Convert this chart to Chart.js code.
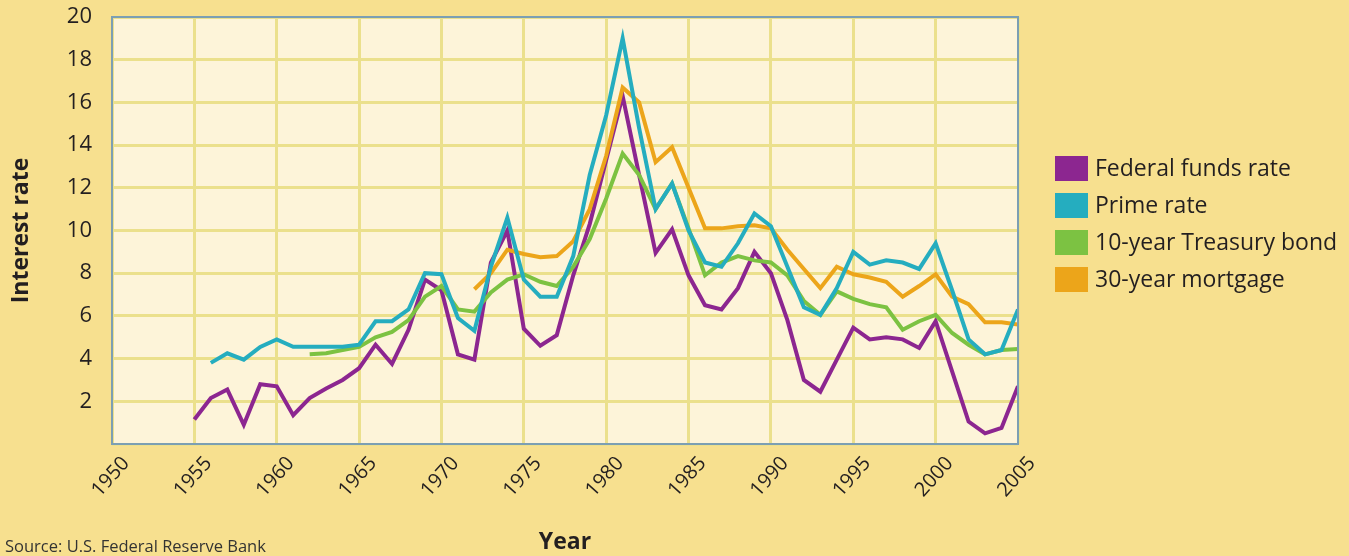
<!DOCTYPE html>
<html>
<head>
<meta charset="utf-8">
<script src="https://cdn.jsdelivr.net/npm/chart.js@4"></script>
<style>
  html, body { margin: 0; padding: 0; background: #f7e08f; }
  canvas { display: block; }
</style>
</head>
<body>
<canvas id="rates" width="1349" height="556"></canvas>
<script>
const years = [1955, 1956, 1957, 1958, 1959, 1960, 1961, 1962, 1963, 1964,
  1965, 1966, 1967, 1968, 1969, 1970, 1971, 1972, 1973, 1974,
  1975, 1976, 1977, 1978, 1979, 1980, 1981, 1982, 1983, 1984,
  1985, 1986, 1987, 1988, 1989, 1990, 1991, 1992, 1993, 1994,
  1995, 1996, 1997, 1998, 1999, 2000, 2001, 2002, 2003, 2004, 2005];

const fedFunds = [1.15, 2.15, 2.55, 0.9, 2.8, 2.7, 1.35, 2.15, 2.6, 3.0,
  3.55, 4.65, 3.75, 5.35, 7.7, 7.2, 4.2, 3.95, 8.5, 10.0,
  5.4, 4.6, 5.1, 7.9, 10.3, 13.3, 16.3, 12.6, 8.95, 10.05,
  7.9, 6.5, 6.3, 7.3, 9.0, 8.0, 5.8, 3.0, 2.45, 3.95,
  5.45, 4.9, 5.0, 4.9, 4.5, 5.75, 3.4, 1.05, 0.5, 0.75, 2.7];

const primeRate = [null, 3.8, 4.25, 3.95, 4.55, 4.9, 4.55, 4.55, 4.55, 4.55,
  4.65, 5.75, 5.75, 6.3, 8.0, 7.95, 5.9, 5.3, 8.3, 10.6,
  7.7, 6.9, 6.9, 8.8, 12.6, 15.4, 19.0, 14.8, 11.0, 12.2,
  10.0, 8.5, 8.3, 9.4, 10.8, 10.2, 8.3, 6.4, 6.05, 7.3,
  9.0, 8.4, 8.6, 8.5, 8.2, 9.4, 7.2, 4.9, 4.2, 4.4, 6.3];

const treasury10 = [null, null, null, null, null, null, null, 4.2, 4.25, 4.4,
  4.55, 5.0, 5.25, 5.8, 6.9, 7.4, 6.3, 6.2, 7.1, 7.7,
  7.95, 7.6, 7.4, 8.3, 9.6, 11.5, 13.6, 12.6, 11.0, 12.2,
  10.1, 7.9, 8.5, 8.8, 8.6, 8.5, 7.9, 6.7, 6.05, 7.15,
  6.8, 6.55, 6.4, 5.35, 5.75, 6.05, 5.2, 4.65, 4.2, 4.4, 4.45];

const mortgage30 = [null, null, null, null, null, null, null, null, null, null,
  null, null, null, null, null, null, null, 7.25, 8.0, 9.1,
  8.9, 8.75, 8.8, 9.5, 11.0, 13.5, 16.7, 16.0, 13.2, 13.9,
  12.0, 10.1, 10.1, 10.2, 10.25, 10.1, 9.1, 8.2, 7.3, 8.3,
  7.95, 7.8, 7.6, 6.9, 7.4, 7.95, 6.9, 6.55, 5.7, 5.7, 5.6];

const seriesNames = ['Federal funds rate', 'Prime rate', '10-year Treasury bond', '30-year mortgage'];
const seriesColors = ['#8c2690', '#25adbf', '#7cc242', '#eca51a'];
const seriesValues = [fedFunds, primeRate, treasury10, mortgage30];

const FONT = "'Open Sans', 'Noto Sans', sans-serif";
const TEXT = '#231f20';

function points(values) {
  return years.map((y, i) => ({ x: y, y: values[i] }));
}

// plot background, outer frame, legend and source note
const decor = {
  id: 'decor',
  beforeDraw(chart) {
    const { ctx, chartArea: a } = chart;
    ctx.save();
    ctx.fillStyle = '#f7e08f';
    ctx.fillRect(0, 0, chart.width, chart.height);
    ctx.fillStyle = '#fdf4d9';
    ctx.fillRect(a.left, a.top, a.right - a.left, a.bottom - a.top);
    ctx.restore();
  },
  afterDraw(chart) {
    const { ctx, chartArea: a } = chart;
    ctx.save();
    ctx.strokeStyle = '#7c9fb3';
    ctx.lineWidth = 2;
    ctx.strokeRect(a.left, a.top, a.right - a.left, a.bottom - a.top);

    ctx.font = '23px ' + FONT;
    ctx.textBaseline = 'middle';
    chart.data.datasets.forEach((ds, i) => {
      const y = 168 + i * 37;
      ctx.fillStyle = ds.borderColor;
      ctx.fillRect(1055, y - 12, 33, 25);
      ctx.fillStyle = TEXT;
      ctx.fillText(ds.label, 1095, y + 1);
    });

    ctx.font = '16.5px ' + FONT;
    ctx.fillStyle = '#333';
    ctx.textBaseline = 'alphabetic';
    ctx.fillText('Source: U.S. Federal Reserve Bank', 5, 552);
    ctx.restore();
  }
};

new Chart(document.getElementById('rates'), {
  type: 'line',
  data: {
    datasets: seriesNames.map((name, i) => ({
      label: name,
      data: points(seriesValues[i]),
      borderColor: seriesColors[i],
      backgroundColor: seriesColors[i],
      borderWidth: 4,
      pointRadius: 0,
      tension: 0,
      spanGaps: false,
      order: [4, 1, 3, 2][i]
    }))
  },
  options: {
    responsive: false,
    animation: false,
    layout: { padding: { top: 17, right: 331, left: 0, bottom: 0 } },
    plugins: {
      legend: { display: false },
      tooltip: { enabled: false }
    },
    scales: {
      x: {
        type: 'linear',
        min: 1950,
        max: 2005,
        afterFit(s) { s.height = 112; },
        grid: { color: '#ebe08c', lineWidth: 3, drawTicks: false },
        border: { display: false },
        ticks: {
          stepSize: 5,
          padding: 8,
          labelOffset: 14,
          maxRotation: 48,
          minRotation: 48,
          color: TEXT,
          font: { family: FONT, size: 20 },
          callback: v => String(v)
        },
        title: {
          display: true,
          text: 'Year',
          color: TEXT,
          font: { family: FONT, size: 23, weight: 'bold' },
          padding: { top: 0, bottom: 0 }
        }
      },
      y: {
        min: 0,
        max: 20,
        afterFit(s) { s.width = 112; },
        grid: { color: '#ebe08c', lineWidth: 3, drawTicks: true, tickLength: 17, tickColor: 'rgba(0,0,0,0)' },
        border: { display: false },
        ticks: {
          stepSize: 2,
          padding: 3,
          color: TEXT,
          font: { family: FONT, size: 22 },
          callback: v => (v === 0 ? '' : String(v))
        },
        title: {
          display: true,
          text: 'Interest rate',
          color: TEXT,
          font: { family: FONT, size: 23, weight: 'bold' },
          padding: { top: 8, bottom: 0 }
        }
      }
    }
  },
  plugins: [decor]
});
</script>
</body>
</html>
